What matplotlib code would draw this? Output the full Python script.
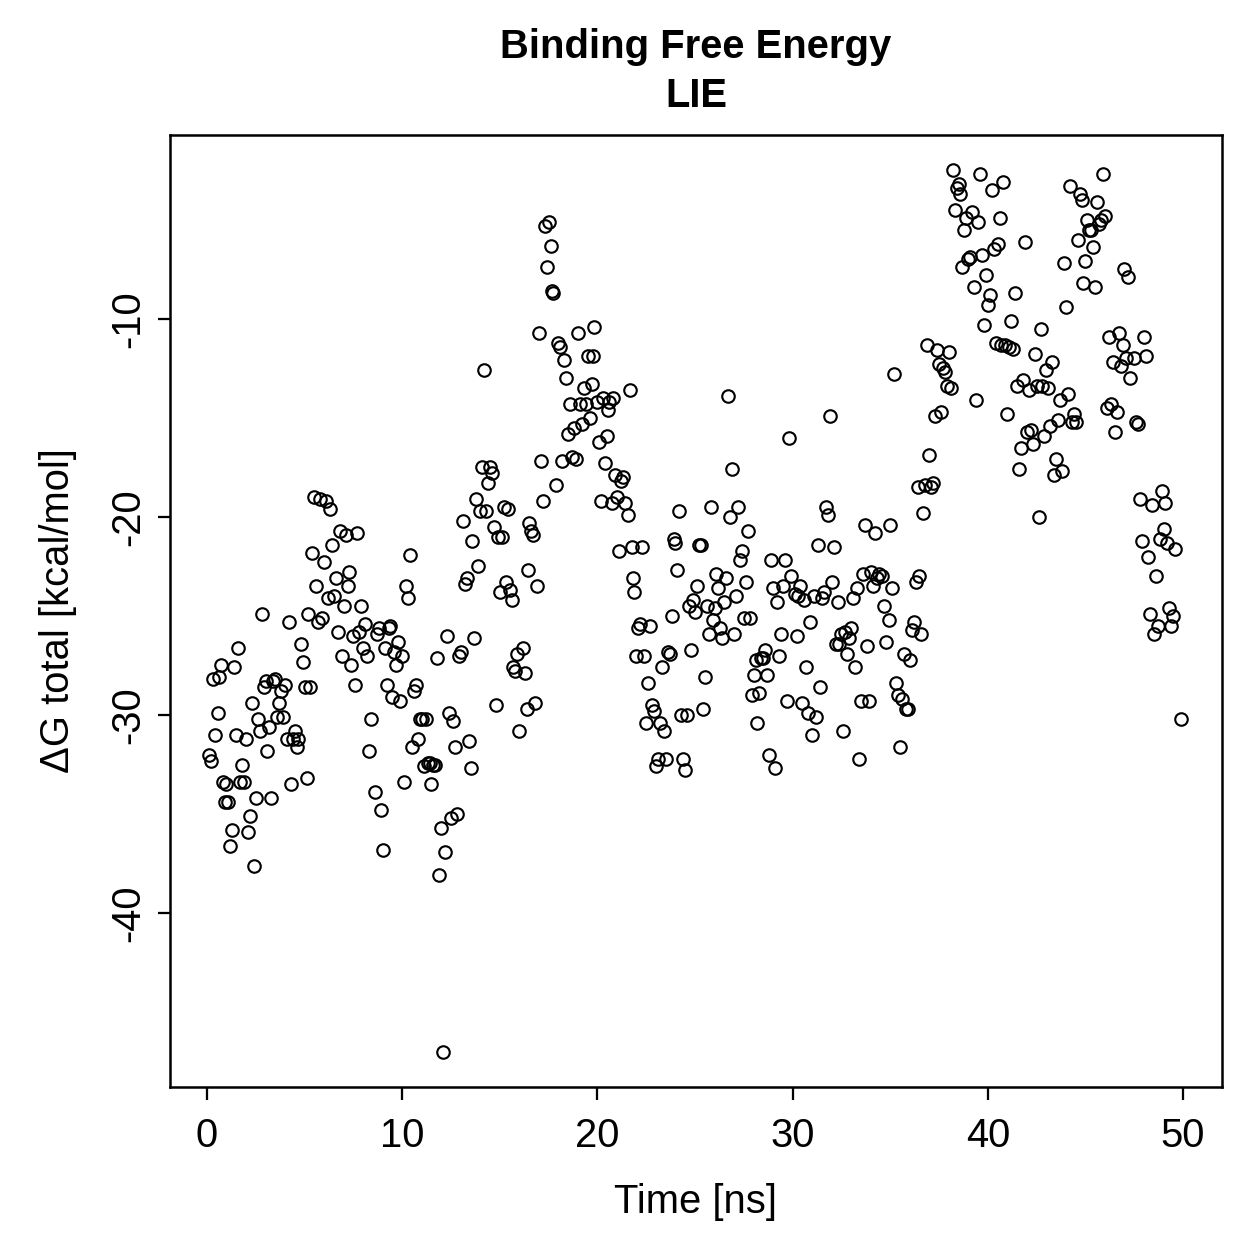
import matplotlib
matplotlib.use('Agg')
import matplotlib.pyplot as plt
import numpy as np

# time [ns] and dG total [kcal/mol]
time = [0.1, 0.2, 0.3, 0.4, 0.55, 0.6, 0.7, 0.8, 0.9, 1.0, 1.1, 1.2, 1.3, 1.4, 1.5, 1.6, 1.7, 1.8, 1.9, 2.0,
        2.1, 2.2, 2.3, 2.4, 2.5, 2.6, 2.7, 2.8, 2.9, 3.0, 3.1, 3.2, 3.3, 3.4, 3.5, 3.6, 3.7, 3.8, 3.9, 4.0,
        4.1, 4.2, 4.3, 4.4, 4.5, 4.6, 4.65, 4.8, 4.9, 5.0, 5.1, 5.2, 5.3, 5.4, 5.5, 5.6, 5.7, 5.8, 5.9, 6.0,
        6.1, 6.2, 6.3, 6.4, 6.5, 6.6, 6.7, 6.8, 6.9, 7.0, 7.1, 7.2, 7.3, 7.4, 7.5, 7.6, 7.7, 7.8, 7.9, 8.0,
        8.1, 8.2, 8.3, 8.4, 8.6, 8.7, 8.8, 8.9, 9.0, 9.1, 9.2, 9.3, 9.4, 9.5, 9.6, 9.7, 9.8, 9.9, 10.0, 10.1,
        10.2, 10.3, 10.4, 10.5, 10.6, 10.7, 10.8, 10.9, 11.0, 11.1, 11.2, 11.3, 11.4, 11.5, 11.6, 11.7, 11.8, 11.9, 12.0, 12.1,
        12.2, 12.3, 12.4, 12.5, 12.6, 12.7, 12.8, 12.9, 13.0, 13.1, 13.2, 13.3, 13.4, 13.5, 13.6, 13.7, 13.8, 13.9, 14.0, 14.1,
        14.2, 14.3, 14.4, 14.5, 14.6, 14.7, 14.8, 14.9, 15.0, 15.1, 15.2, 15.3, 15.4, 15.5, 15.6, 15.7, 15.8, 15.9, 16.0, 16.2,
        16.3, 16.4, 16.45, 16.5, 16.6, 16.7, 16.8, 16.9, 17.0, 17.1, 17.2, 17.3, 17.4, 17.5, 17.6, 17.7, 17.75, 17.9, 18.0, 18.1,
        18.2, 18.3, 18.4, 18.5, 18.6, 18.7, 18.8, 18.9, 19.0, 19.1, 19.2, 19.3, 19.4, 19.5, 19.6, 19.7, 19.8, 19.85, 20.0, 20.1,
        20.2, 20.3, 20.4, 20.5, 20.55, 20.6, 20.75, 20.8, 20.9, 21.0, 21.1, 21.2, 21.3, 21.4, 21.55, 21.65, 21.75, 21.8, 21.9, 22.0,
        22.1, 22.2, 22.3, 22.4, 22.5, 22.6, 22.7, 22.8, 22.9, 23.0, 23.1, 23.2, 23.3, 23.4, 23.5, 23.6, 23.7, 23.8, 23.9, 24.0,
        24.1, 24.2, 24.3, 24.4, 24.5, 24.6, 24.7, 24.8, 24.9, 25.0, 25.1, 25.2, 25.3, 25.4, 25.5, 25.6, 25.7, 25.8, 25.9, 26.0,
        26.1, 26.2, 26.3, 26.4, 26.5, 26.6, 26.7, 26.8, 26.9, 27.0, 27.1, 27.2, 27.3, 27.4, 27.5, 27.6, 27.7, 27.8, 27.9, 28.0,
        28.1, 28.2, 28.3, 28.4, 28.5, 28.6, 28.7, 28.8, 28.9, 29.0, 29.1, 29.2, 29.3, 29.4, 29.5, 29.6, 29.7, 29.8, 29.9, 30.1,
        30.2, 30.3, 30.4, 30.5, 30.6, 30.7, 30.8, 30.9, 31.0, 31.1, 31.2, 31.3, 31.4, 31.5, 31.6, 31.7, 31.8, 31.9, 32.0, 32.1,
        32.2, 32.3, 32.4, 32.5, 32.6, 32.7, 32.8, 32.9, 33.0, 33.1, 33.2, 33.3, 33.4, 33.5, 33.6, 33.7, 33.8, 33.9, 34.0, 34.1,
        34.2, 34.3, 34.45, 34.6, 34.7, 34.8, 34.95, 35.0, 35.1, 35.2, 35.3, 35.4, 35.5, 35.6, 35.7, 35.8, 35.9, 36.0, 36.1, 36.2,
        36.3, 36.4, 36.5, 36.6, 36.7, 36.8, 36.9, 37.0, 37.1, 37.2, 37.3, 37.4, 37.5, 37.6, 37.7, 37.8, 37.9, 38.0, 38.1, 38.2,
        38.3, 38.4, 38.5, 38.6, 38.7, 38.8, 38.9, 39.0, 39.1, 39.2, 39.3, 39.4, 39.5, 39.6, 39.7, 39.8, 39.9, 40.0, 40.1, 40.2,
        40.3, 40.4, 40.5, 40.6, 40.7, 40.8, 40.9, 41.0, 41.1, 41.2, 41.3, 41.4, 41.5, 41.6, 41.7, 41.8, 41.9, 42.0, 42.1, 42.2,
        42.3, 42.4, 42.5, 42.6, 42.7, 42.8, 42.9, 43.0, 43.1, 43.2, 43.3, 43.4, 43.5, 43.6, 43.7, 43.8, 43.9, 44.0, 44.1, 44.2,
        44.3, 44.4, 44.5, 44.6, 44.7, 44.8, 44.9, 45.0, 45.1, 45.2, 45.3, 45.4, 45.5, 45.6, 45.7, 45.8, 45.9, 46.0, 46.1, 46.2,
        46.3, 46.4, 46.5, 46.6, 46.7, 46.8, 46.9, 47.0, 47.1, 47.2, 47.3, 47.5, 47.6, 47.7, 47.8, 47.9, 48.0, 48.1, 48.2, 48.3,
        48.4, 48.5, 48.6, 48.7, 48.8, 48.9, 49.0, 49.1, 49.2, 49.3, 49.4, 49.5, 49.6, 49.9]

dG = [-32.0, -32.3, -28.2, -31.0, -29.9, -28.1, -27.5, -33.4, -34.4, -33.5, -34.4, -36.6, -35.8, -27.6, -31.0, -26.6, -33.4, -32.5, -33.4, -31.2,
      -35.9, -35.1, -29.4, -37.6, -34.2, -30.2, -30.8, -24.9, -28.6, -28.3, -31.8, -30.6, -34.2, -28.3, -28.2, -30.1, -29.4, -28.8, -30.1, -28.5,
      -31.2, -25.3, -33.5, -31.2, -30.8, -31.6, -31.2, -26.4, -27.3, -28.6, -33.2, -24.9, -28.6, -21.8, -19.0, -23.5, -25.3, -19.1, -25.1, -22.3,
      -19.2, -24.1, -19.6, -21.4, -24.0, -23.1, -25.8, -20.7, -27.0, -24.5, -20.9, -23.5, -22.8, -27.5, -26.0, -28.5, -20.8, -25.8, -24.5, -26.6,
      -25.4, -27.0, -31.8, -30.2, -33.9, -25.9, -25.6, -34.8, -36.8, -26.6, -28.5, -25.6, -25.5, -29.1, -26.8, -27.5, -26.3, -29.3, -27.0, -33.4,
      -23.5, -24.1, -21.9, -31.6, -28.8, -28.5, -31.2, -30.2, -30.2, -32.6, -30.2, -32.4, -32.4, -33.5, -32.5, -32.5, -27.1, -38.1, -35.7, -47.0,
      -36.9, -26.0, -29.9, -35.2, -30.3, -31.6, -35.0, -27.0, -26.8, -20.2, -23.4, -23.1, -31.3, -32.7, -21.2, -26.1, -19.1, -22.5, -19.7, -17.5,
      -12.6, -19.7, -18.3, -17.5, -17.8, -20.5, -29.5, -21.0, -23.8, -21.0, -19.5, -23.3, -19.6, -23.7, -24.2, -27.6, -27.8, -26.9, -30.8, -26.6,
      -27.9, -29.7, -22.7, -20.3, -20.7, -20.9, -29.4, -23.5, -10.7, -17.2, -19.2, -5.3, -7.4, -5.1, -6.3, -8.6, -8.7, -18.4, -11.2, -11.4,
      -17.2, -12.1, -13.0, -15.8, -14.3, -17.0, -15.5, -17.1, -10.7, -14.3, -15.3, -13.5, -14.3, -11.9, -15.0, -13.3, -11.9, -10.4, -14.2, -16.2,
      -19.2, -14.0, -17.3, -15.9, -14.6, -14.2, -19.3, -14.0, -17.9, -19.0, -21.7, -18.2, -18.0, -19.3, -19.9, -13.6, -21.5, -23.1, -23.8, -27.0,
      -25.6, -25.4, -21.5, -27.0, -30.4, -28.4, -25.5, -29.5, -29.8, -32.6, -32.2, -30.4, -27.6, -30.8, -32.2, -26.8, -26.9, -25.0, -21.1, -21.3,
      -22.7, -19.7, -30.0, -32.2, -32.8, -30.0, -24.5, -26.7, -24.2, -24.8, -23.5, -21.4, -21.4, -29.7, -28.1, -24.5, -25.9, -19.5, -25.2, -24.6,
      -22.9, -23.6, -25.6, -26.1, -24.3, -23.1, -13.9, -20.0, -17.6, -25.9, -24.0, -19.5, -22.2, -21.7, -25.1, -23.3, -20.7, -25.1, -29.0, -28.0,
      -27.2, -30.4, -28.9, -27.1, -27.1, -26.7, -28.0, -32.0, -22.2, -23.6, -32.7, -24.3, -27.0, -25.9, -23.5, -22.2, -29.3, -16.0, -23.0, -23.9,
      -26.0, -24.0, -23.5, -29.4, -24.2, -27.6, -29.9, -25.3, -31.0, -24.0, -30.1, -21.4, -28.6, -24.1, -23.8, -19.5, -19.9, -14.9, -23.3, -21.5,
      -26.4, -24.3, -26.4, -25.9, -30.8, -25.8, -26.9, -26.1, -25.6, -24.1, -27.6, -23.6, -32.2, -29.3, -22.9, -20.4, -26.5, -29.3, -22.8, -23.5,
      -20.8, -23.1, -22.9, -23.0, -24.5, -26.3, -25.2, -20.4, -23.6, -12.8, -28.4, -29.0, -31.6, -29.2, -26.9, -29.7, -29.7, -27.2, -25.7, -25.3,
      -23.3, -18.5, -23.0, -25.9, -19.8, -18.4, -11.3, -16.9, -18.5, -18.3, -14.9, -11.6, -12.3, -14.7, -12.5, -12.7, -13.4, -11.7, -13.5, -2.5,
      -4.5, -3.4, -3.2, -3.7, -7.4, -5.5, -4.9, -7.0, -6.9, -4.6, -8.4, -14.1, -5.1, -2.7, -6.8, -10.3, -7.8, -9.3, -8.8, -3.5,
      -6.5, -11.2, -6.2, -4.9, -11.3, -3.1, -11.3, -14.8, -11.4, -10.1, -11.5, -8.7, -13.4, -17.6, -16.5, -13.1, -6.1, -15.7, -13.6, -15.6,
      -16.3, -11.8, -13.4, -20.0, -10.5, -13.4, -15.9, -12.6, -13.5, -15.4, -12.2, -17.9, -17.1, -15.1, -14.1, -17.7, -7.2, -9.4, -13.8, -3.3,
      -15.2, -14.8, -15.2, -6.0, -3.7, -4.0, -8.2, -7.1, -5.0, -5.5, -5.5, -6.4, -8.4, -4.1, -5.2, -5.0, -2.7, -4.8, -14.5, -10.9,
      -14.3, -12.2, -15.7, -14.7, -10.7, -12.4, -11.3, -7.5, -12.0, -7.9, -13.0, -12.0, -15.2, -15.3, -19.1, -21.2, -10.9, -11.9, -22.0, -24.9,
      -19.4, -25.9, -23.0, -25.5, -21.1, -18.7, -20.6, -19.3, -21.3, -24.6, -25.5, -25.0, -21.6, -30.2]

plt.rcParams['font.family'] = ['Liberation Sans', 'DejaVu Sans']
plt.rcParams['axes.unicode_minus'] = False

fig = plt.figure(figsize=(1259 / 180, 1259 / 180), dpi=180)
ax = fig.add_axes([0.135, 0.1366, 0.8356, 0.7562])

ax.plot(time, dG, linestyle='none', marker='o', ms=5.0, mfc='none', mec='black', mew=0.85)

# R style axis limits (4% padding, simulation runs 0.1 .. 50 ns)
y = np.array(dG)
py = (y.max() - y.min()) * 0.04
ax.set_xlim(0.1 - 49.9 * 0.04, 50 + 49.9 * 0.04)
ax.set_ylim(y.min() - py, y.max() + py)

ax.set_xticks([0, 10, 20, 30, 40, 50])
ax.set_yticks([-40, -30, -20, -10])
ax.tick_params(direction='out', length=5, width=0.9, labelsize=16)
ax.tick_params(axis='x', pad=7)
ax.tick_params(axis='y', pad=4)
for lab in ax.get_yticklabels():
    lab.set_rotation(90)
    lab.set_va('center')
for s in ax.spines.values():
    s.set_linewidth(1.0)

ax.set_xlabel('Time [ns]', fontsize=16, labelpad=11)
ax.set_ylabel('ΔG total [kcal/mol]', fontsize=16, labelpad=13)
ax.set_title('Binding Free Energy\nLIE', fontsize=16, fontweight='bold', pad=11, linespacing=1.38)

plt.savefig('out.png', dpi=180)
